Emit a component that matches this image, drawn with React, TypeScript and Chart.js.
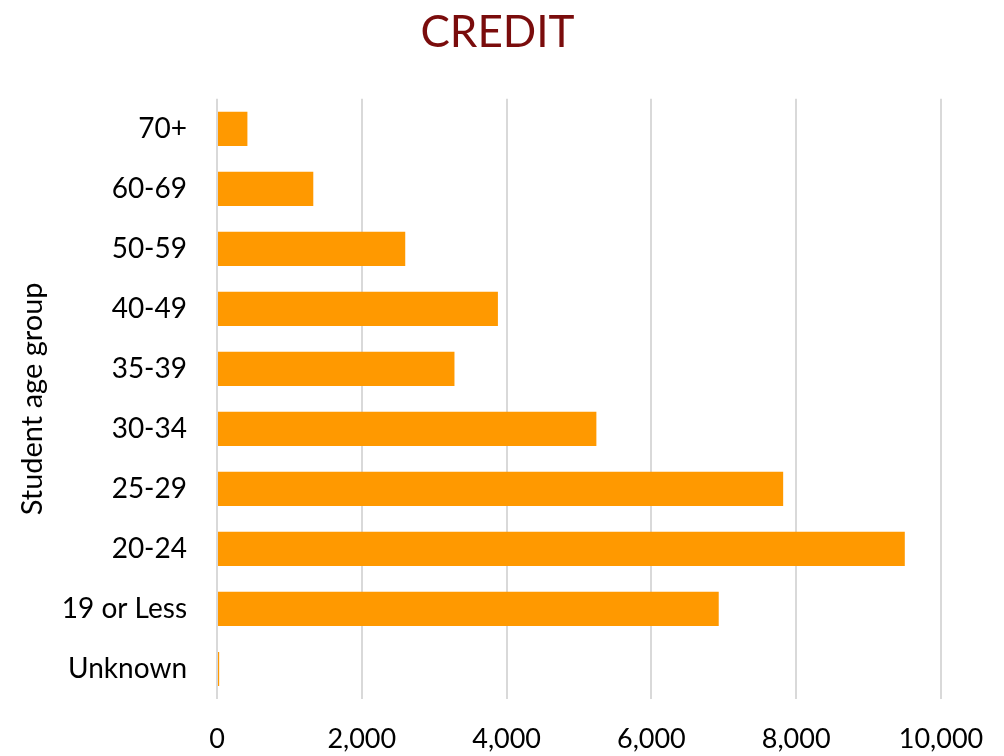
import React, { useEffect, useRef } from "react";
import { Chart, registerables } from "chart.js";

Chart.register(...registerables);

const categories = ["70+", "60-69", "50-59", "40-49", "35-39", "30-34", "25-29", "20-24", "19 or Less", "Unknown"];
const credits = [420, 1330, 2600, 3880, 3280, 5240, 7820, 9500, 6930, 30];
const xTicks = [0, 2000, 4000, 6000, 8000, 10000];
const titleText = "CREDIT";
const yAxisTitle = "Student age group";

export default function App() {
  const ref = useRef<HTMLCanvasElement | null>(null);
  useEffect(() => {
    document.body.style.margin = "0";
    const ctx = ref.current!;
    const chart = new Chart(ctx, {
      type: "bar",
      data: {
        labels: categories,
        datasets: [
          {
            data: credits,
            backgroundColor: "#FF9900",
            barPercentage: 0.57,
            categoryPercentage: 1,
          },
        ],
      },
      options: {
        indexAxis: "y",
        animation: false,
        responsive: false,
        maintainAspectRatio: false,
        layout: { padding: { top: 6, right: 9, bottom: 0, left: 0 } },
        plugins: {
          legend: { display: false },
          tooltip: { enabled: false },
          title: {
            display: true,
            text: titleText,
            color: "#7A0C0C",
            font: { family: "Lato", size: 44, weight: "normal" },
            padding: { top: 0, bottom: 40 },
          },
        },
        scales: {
          x: {
            min: 0,
            max: 10000,
            afterBuildTicks: (axis: any) => {
              axis.ticks = xTicks.map((v) => ({ value: v }));
            },
            afterFit: (axis: any) => {
              axis.height = 57;
              axis.paddingRight = 63;
              axis.paddingLeft = 0;
            },
            ticks: {
              color: "#000",
              font: { family: "Lato", size: 27 },
              padding: 24,
              maxRotation: 0,
              callback: (v: any) => Number(v).toLocaleString("en-US"),
            },
            grid: { color: "#d9d9d9", lineWidth: 2, drawTicks: false },
            border: { display: false },
          },
          y: {
            afterFit: (axis: any) => {
              axis.width = 217;
            },
            ticks: {
              color: "#000",
              font: { family: "Lato", size: 28 },
              padding: 30,
            },
            grid: { display: false, drawTicks: false },
            border: { display: false },
            title: {
              display: true,
              text: yAxisTitle,
              color: "#000",
              font: { family: "Lato", size: 29 },
              padding: { top: 15, bottom: 0 },
            },
          },
        },
      },
    });
    return () => chart.destroy();
  }, []);
  return (
    <div style={{ width: 1004, height: 756 }}>
      <canvas ref={ref} width={1004} height={756} />
    </div>
  );
}
